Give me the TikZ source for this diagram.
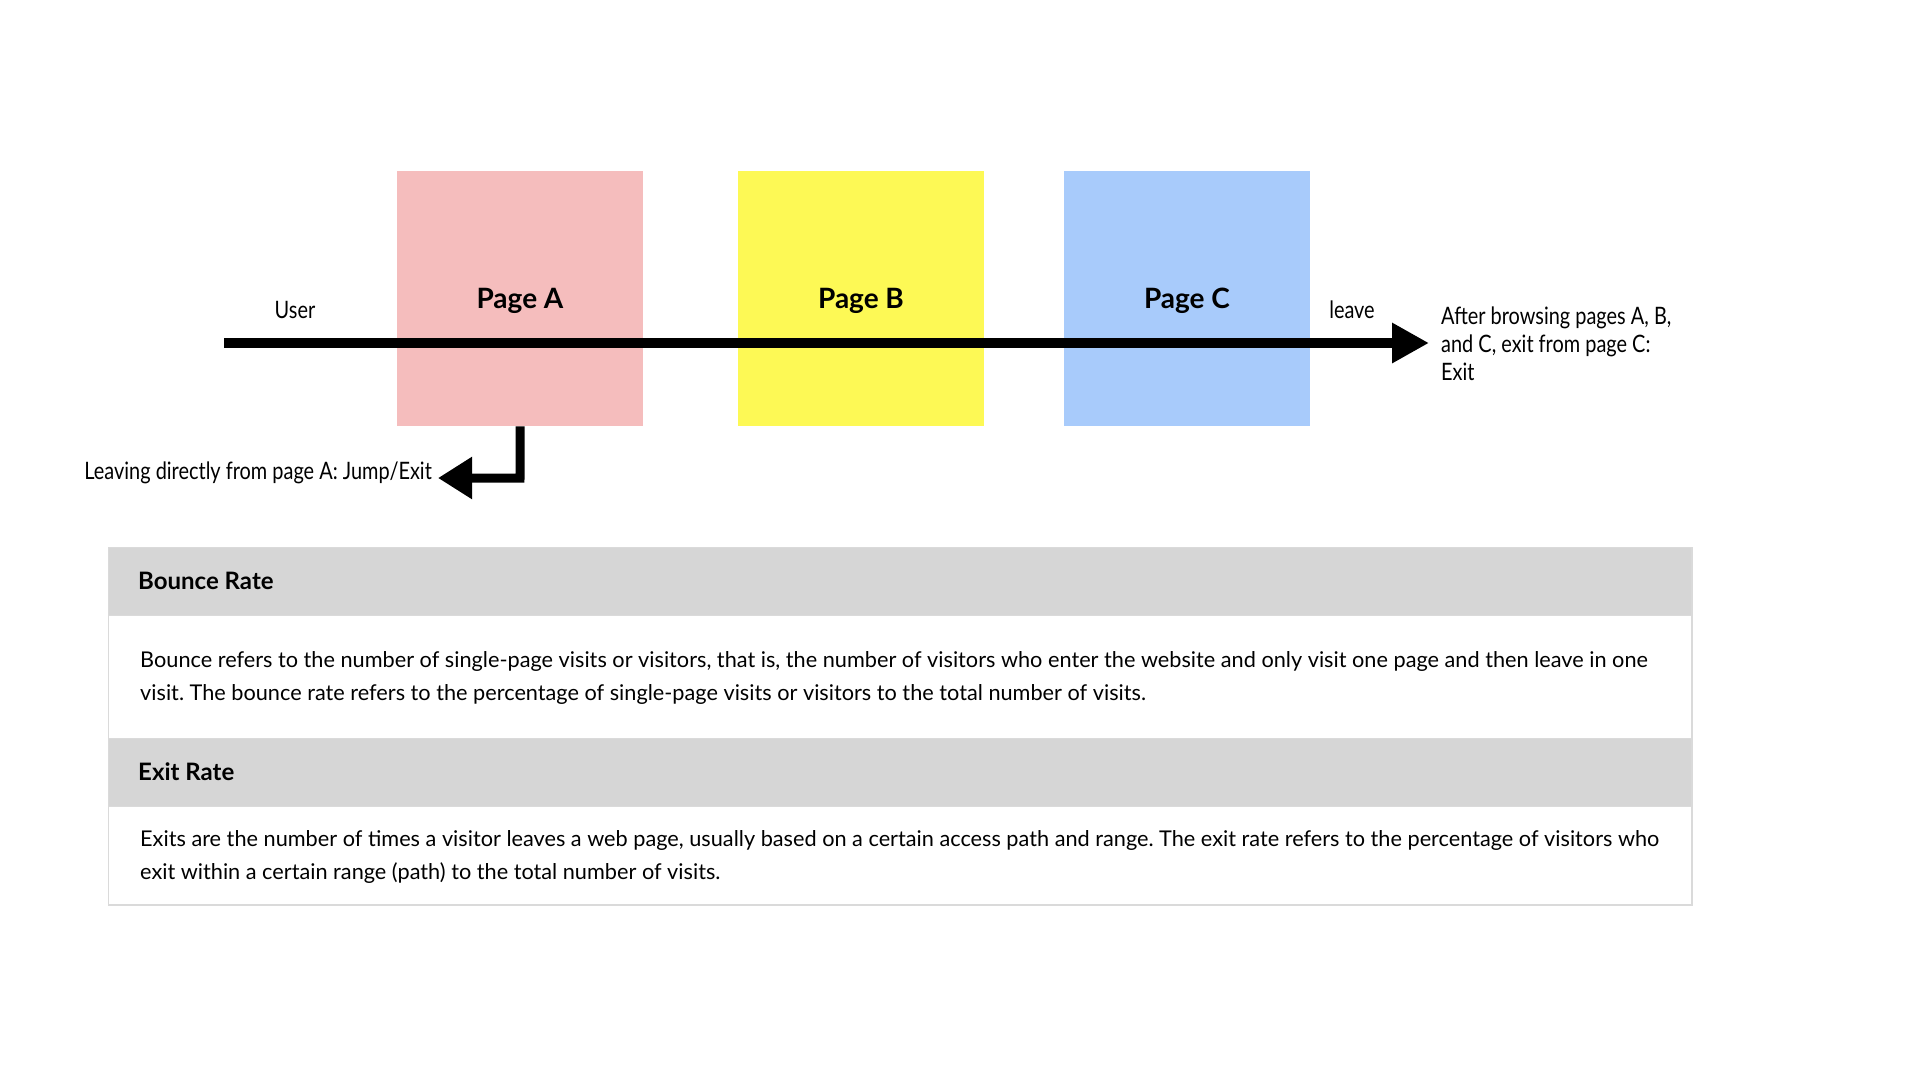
\documentclass[tikz,border=0pt]{standalone}
\usepackage{fontspec}
\setmainfont{Lato}
\newfontfamily\condfont[FakeStretch=0.83]{Lato}
\usetikzlibrary{arrows.meta}
\definecolor{pinkA}{HTML}{F5BDBD}
\definecolor{yellowB}{HTML}{FDF955}
\definecolor{blueC}{HTML}{A8CBFB}
\definecolor{hdrgray}{HTML}{D6D6D6}
\definecolor{bordergray}{HTML}{DADADA}
\frenchspacing
\begin{document}
\begin{tikzpicture}[x=1pt,y=-1pt,
  pagebox/.style={minimum width=246pt,minimum height=255pt,inner sep=0pt},
  pagelabel/.style={font=\fontsize{28}{32}\selectfont\bfseries,inner sep=0pt},
  cond/.style={font=\condfont\fontsize{24}{28}\selectfont,inner sep=0pt},
  flow/.style={line width=10pt,-{Triangle[length=37pt,width=38pt]}},
  hdr/.style={fill=hdrgray,draw=bordergray,line width=1pt,minimum width=1583pt,inner sep=0pt},
  bodyrow/.style={fill=white,draw=bordergray,line width=1pt,minimum width=1583pt,inner sep=0pt},
  hdrtext/.style={anchor=west,inner sep=0pt,font=\fontsize{24}{28}\selectfont\bfseries},
  bodytext/.style={anchor=north west,inner sep=0pt,align=left,font=\fontsize{21.7}{33}\selectfont}
]
\useasboundingbox[fill=white] (0,0) rectangle (1920,1080);

% page boxes
\node[pagebox,fill=pinkA,anchor=north west] (pa) at (397,171) {};
\node[pagebox,fill=yellowB,anchor=north west] (pb) at (738,171) {};
\node[pagebox,fill=blueC,anchor=north west] (pc) at (1064,171) {};
\node[pagelabel] (la) at (520,301) {Page A};
\node[pagelabel] (lb) at (861,301) {Page B};
\node[pagelabel] (lc) at (1187,301) {Page C};

% main flow
\coordinate (ustart) at (224,343);
\coordinate (uend) at (1429,343);
\draw[flow] (ustart) -- (uend);
\node[cond] (user) at (295,310) {User};
\node[cond] (leave) at (1352,310) {leave};
\node[cond,anchor=west,align=left] (after) at (1441,344) {After browsing pages A, B,\\and C, exit from page C:\\Exit};

% bounce arrow
\node[cond,anchor=east] (leaving) at (432,473) {Leaving directly from page A: Jump/Exit};
\coordinate (bend) at (520,478);
\coordinate (btip) at (438,478);
\draw[line width=9pt,-{Triangle[length=34pt,width=40pt]},line join=miter] (pa.south) -- (bend) -- (btip);

% table
\node[hdr,minimum height=68pt,anchor=north west] (h1) at (108,547) {};
\node[bodyrow,minimum height=123pt,anchor=north west] (b1) at (108,615) {};
\node[hdr,minimum height=68pt,anchor=north west] (h2) at (108,738) {};
\node[bodyrow,minimum height=98pt,anchor=north west] (b2) at (108,806) {};
\draw[bordergray,line width=1pt] (h1.north west) rectangle (b2.south east);
\node[hdrtext] (t1) at (138,581) {Bounce Rate};
\node[hdrtext] (t2) at (138,772) {Exit Rate};
\node[bodytext] (p1) at (140,651) {Bounce refers to the number of single-page visits or visitors, that is, the number of visitors who enter the website and only visit one page and then leave in one\\visit. The bounce rate refers to the percentage of single-page visits or visitors to the total number of visits.};
\node[bodytext] (p2) at (140,830) {Exits are the number of times a visitor leaves a web page, usually based on a certain access path and range. The exit rate refers to the percentage of visitors who\\exit within a certain range (path) to the total number of visits.};
\end{tikzpicture}
\end{document}
